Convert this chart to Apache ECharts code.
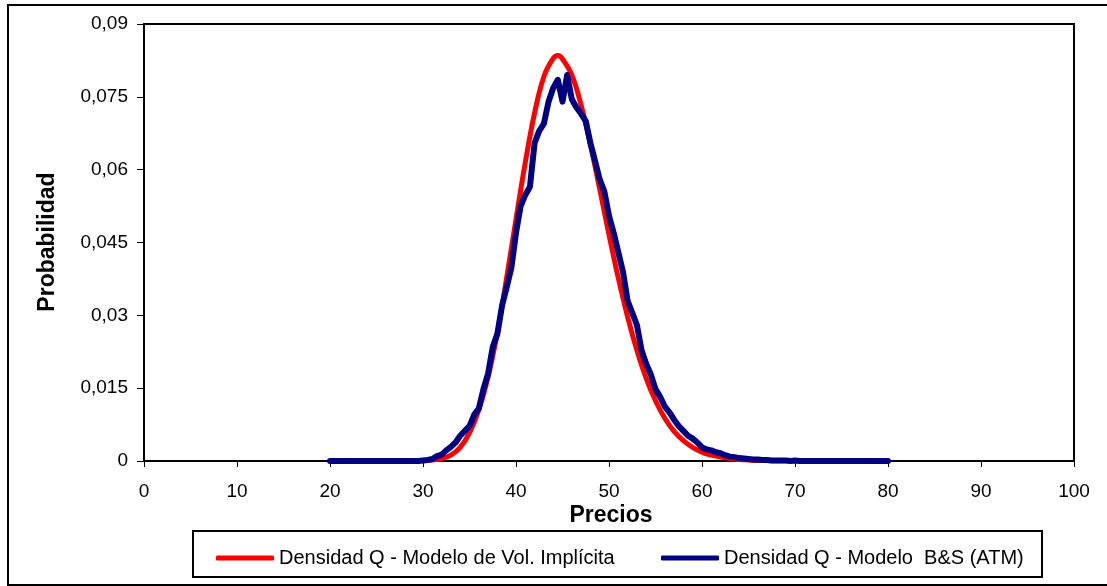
<!DOCTYPE html>
<html>
<head>
<meta charset="utf-8">
<title>Densidad Q</title>
<script src="https://cdn.jsdelivr.net/npm/echarts@6/dist/echarts.min.js"></script>
<style>
    html, body { margin: 0; padding: 0; background: #fff; }
    #chart { width: 1107px; height: 586px; }
</style>
</head>
<body>
<div id="chart"></div>
<script>
    // precios (eje x)
    var preciosVol = [20, 21, 22, 23, 24, 25, 26, 27, 28, 29,
        30, 31, 32, 33, 34, 35, 36, 37, 38, 39,
        40, 41, 42, 43, 44, 44.5, 45, 46, 47, 48, 49,
        50, 51, 52, 53, 54, 55, 56, 57, 58, 59,
        60, 61, 62, 63, 64, 65, 66, 67, 68, 69,
        70, 71, 72, 73, 74, 75, 76, 77, 78, 79, 80];

    // Densidad Q - Modelo de Vol. Implicita
    var densidadVol = [0, 0, 0, 0, 0, 0, 0, 0, 0, 0.00002,
        0.00008, 0.0002, 0.0005, 0.0012, 0.0028, 0.0058, 0.0105, 0.0173, 0.0265, 0.0378,
        0.0498, 0.0615, 0.0717, 0.0792, 0.0829, 0.0835, 0.0828, 0.0795, 0.0733, 0.0652, 0.0560,
        0.0466, 0.0377, 0.0297, 0.0228, 0.0170, 0.0124, 0.0088, 0.0061, 0.0042, 0.0028,
        0.0018, 0.0012, 0.0008, 0.0005, 0.0003, 0.0002, 0.0001, 0.0001, 0, 0,
        0, 0, 0, 0, 0, 0, 0, 0, 0, 0, 0];

    var preciosBS = [20, 20.5, 21, 21.5, 22, 22.5, 23, 23.5, 24, 24.5,
        25, 25.5, 26, 26.5, 27, 27.5, 28, 28.5, 29, 29.5,
        30, 30.5, 31, 31.5, 32, 32.5, 33, 33.5, 34, 34.5,
        35, 35.5, 36, 36.5, 37, 37.5, 38, 38.5, 39, 39.5,
        40, 40.5, 41, 41.5, 42, 42.5, 43, 43.5, 44, 44.5,
        45, 45.5, 46, 46.5, 47, 47.5, 48, 48.5, 49, 49.5,
        50, 50.5, 51, 51.5, 52, 52.5, 53, 53.5, 54, 54.5,
        55, 55.5, 56, 56.5, 57, 57.5, 58, 58.5, 59, 59.5,
        60, 60.5, 61, 61.5, 62, 62.5, 63, 63.5, 64, 64.5,
        65, 65.5, 66, 66.5, 67, 67.5, 68, 68.5, 69, 69.5,
        70, 70.5, 71, 71.5, 72, 72.5, 73, 73.5, 74, 74.5,
        75, 75.5, 76, 76.5, 77, 77.5, 78, 78.5, 79, 79.5, 80];

    // Densidad Q - Modelo B&S (ATM)
    var densidadBS = [0, 0, 0, 0, 0, 0, 0, 0, 0, 0,
        0, 0, 0, 0, 0, 0, 0, 0, 0, 0,
        0.0001, 0.0002, 0.0004, 0.0010, 0.0013, 0.0022, 0.0029, 0.0038, 0.0052, 0.0062,
        0.0072, 0.0095, 0.0108, 0.0148, 0.0180, 0.0235, 0.0262, 0.0320, 0.0358, 0.0398,
        0.0470, 0.0525, 0.0548, 0.0565, 0.0655, 0.0680, 0.0695, 0.0740, 0.0768, 0.0785,
        0.0740, 0.0795, 0.0745, 0.0728, 0.0715, 0.0700, 0.0655, 0.0618, 0.0580, 0.0555,
        0.0505, 0.0470, 0.0430, 0.0390, 0.0330, 0.0305, 0.0280, 0.0228, 0.0200, 0.0178,
        0.0148, 0.0132, 0.0112, 0.0100, 0.0085, 0.0072, 0.0062, 0.0052, 0.0046, 0.0038,
        0.0028, 0.0024, 0.0022, 0.0018, 0.0016, 0.0012, 0.0009, 0.0008, 0.0006, 0.0005,
        0.0004, 0.0003, 0.0003, 0.0002, 0.0002, 0.0001, 0.0001, 0.0001, 0.0001, 0,
        0.0001, 0, 0, 0, 0, 0, 0, 0, 0, 0,
        0, 0, 0, 0, 0, 0, 0, 0, 0, 0, 0];

    var serieNames = ['Densidad Q - Modelo de Vol. Implícita', 'Densidad Q - Modelo  B&S (ATM)'];

    function pares(xs, ys) {
        var out = [];
        for (var i = 0; i < xs.length; i++) {
            out.push([xs[i], ys[i]]);
        }
        return out;
    }

    var fuente = 'Liberation Sans, Arial, sans-serif';

    var myChart = echarts.init(document.getElementById('chart'));
    var option = {
        backgroundColor: '#fff',
        animation: false,
        grid: {
            left: 144, top: 24, right: 33, bottom: 125,
            show: true, borderColor: '#000', borderWidth: 2
        },
        legend: [
            {
                data: [serieNames[0]], left: 211, top: 543,
                itemWidth: 58, itemHeight: 5, icon: 'roundRect',
                textStyle: { fontFamily: fuente, fontSize: 20, color: '#000' }
            },
            {
                data: [serieNames[1]], left: 656, top: 543,
                itemWidth: 58, itemHeight: 5, icon: 'roundRect',
                textStyle: { fontFamily: fuente, fontSize: 20, color: '#000' }
            }
        ],
        xAxis: {
            type: 'value', min: 0, max: 100, interval: 10,
            axisLine: { lineStyle: { color: '#000', width: 2 } },
            axisTick: { length: 6, lineStyle: { color: '#000', width: 1 } },
            splitLine: { show: false },
            axisLabel: { margin: 21, fontFamily: fuente, fontSize: 19, color: '#000' }
        },
        yAxis: {
            type: 'value', min: 0, max: 0.09, interval: 0.015,
            axisLine: { show: true, lineStyle: { color: '#000', width: 2 } },
            axisTick: { show: true, length: 7, lineStyle: { color: '#000', width: 1 } },
            splitLine: { show: false },
            axisLabel: {
                margin: 16, fontFamily: fuente, fontSize: 19, color: '#000',
                formatter: function (v) {
                    return String(+v.toFixed(3)).replace('.', ',');
                }
            }
        },
        series: [
            {
                name: serieNames[0], type: 'line', smooth: 0.4,
                showSymbol: false, symbol: 'none',
                data: pares(preciosVol, densidadVol),
                itemStyle: { color: '#ff0000' },
                lineStyle: { color: '#ff0000', width: 5 }
            },
            {
                name: serieNames[1], type: 'line',
                showSymbol: false, symbol: 'none',
                data: pares(preciosBS, densidadBS),
                itemStyle: { color: '#000080' },
                lineStyle: { color: '#000080', width: 6, join: 'round', cap: 'round' }
            }
        ],
        graphic: [
            // marco exterior
            { type: 'rect', shape: { x: 8, y: 5, width: 1110, height: 580 },
              style: { fill: null, stroke: '#000', lineWidth: 2 }, silent: true, z: -1 },
            // caja de la leyenda
            { type: 'rect', shape: { x: 193, y: 531, width: 849, height: 46 },
              style: { fill: null, stroke: '#000', lineWidth: 2 }, silent: true },
            { type: 'text', x: 611, y: 516,
              style: { text: 'Precios', font: 'bold 23px ' + fuente, fill: '#000',
                       textAlign: 'center', textVerticalAlign: 'middle' } },
            { type: 'text', x: 48, y: 242, rotation: Math.PI / 2,
              style: { text: 'Probabilidad', font: 'bold 23px ' + fuente, fill: '#000',
                       textAlign: 'center', textVerticalAlign: 'middle' } }
        ]
    };
    myChart.setOption(option);
</script>
</body>
</html>
